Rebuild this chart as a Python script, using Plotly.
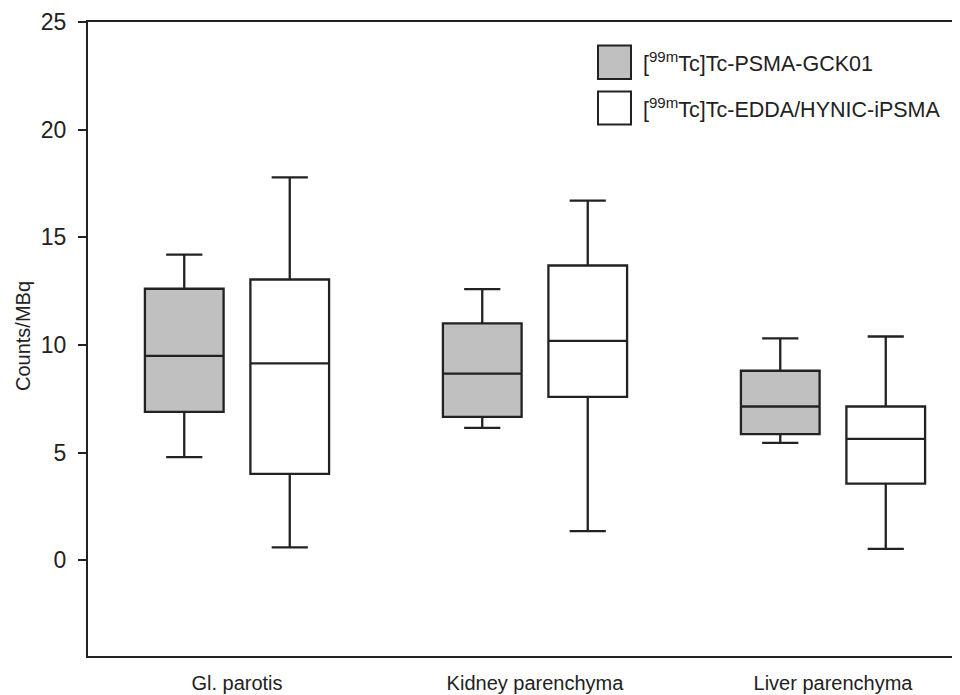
import plotly.graph_objects as go

categories = ["Gl. parotis", "Kidney parenchyma", "Liver parenchyma"]

gck_name = "[<sup>99m</sup>Tc]Tc-PSMA-GCK01"
gck_lower = [4.79, 6.15, 5.45]
gck_q1 = [6.89, 6.66, 5.86]
gck_median = [9.49, 8.67, 7.14]
gck_q3 = [12.61, 11.00, 8.80]
gck_upper = [14.19, 12.59, 10.30]

edda_name = "[<sup>99m</sup>Tc]Tc-EDDA/HYNIC-iPSMA"
edda_lower = [0.60, 1.35, 0.53]
edda_q1 = [4.01, 7.59, 3.56]
edda_median = [9.14, 10.19, 5.64]
edda_q3 = [13.04, 13.69, 7.14]
edda_upper = [17.78, 16.70, 10.39]

y_ticks = [0, 5, 10, 15, 20, 25]

FONT = "Arial, Liberation Sans, sans-serif"
LINE = "#222222"
GRAY = "#c0c0c0"

fig = go.Figure()
fig.add_trace(go.Box(
    name=gck_name, x=categories, q1=gck_q1, median=gck_median, q3=gck_q3,
    lowerfence=gck_lower, upperfence=gck_upper, boxpoints=False,
    fillcolor=GRAY, line=dict(color=LINE, width=2.3), whiskerwidth=0.46,
    showlegend=False, hoverinfo="skip",
))
fig.add_trace(go.Box(
    name=edda_name, x=categories, q1=edda_q1, median=edda_median, q3=edda_q3,
    lowerfence=edda_lower, upperfence=edda_upper, boxpoints=False,
    fillcolor="white", line=dict(color=LINE, width=2.3), whiskerwidth=0.46,
    showlegend=False, hoverinfo="skip",
))

# page body has an 8px margin; figure is sized so it ends at the window edge
OFF = 8
W, H = 960 - OFF, 695 - OFF
ml, mt, mb, mr = 88 - OFF, 22 - OFF, 39, 0
pw, ph = W - ml - mr, H - mt - mb

def px_x(x):
    # x given in page pixels
    return (x - OFF - ml) / pw

def px_y(y):
    return (H - mb - (y - OFF)) / ph

# manual legend
legend_items = [(gck_name, GRAY, 45.5, 79), (edda_name, "white", 91.5, 124.5)]
for name, col, y0, y1 in legend_items:
    fig.add_shape(type="rect", xref="paper", yref="paper",
                  x0=px_x(598), x1=px_x(631), y0=px_y(y1), y1=px_y(y0),
                  fillcolor=col, line=dict(color=LINE, width=2))
    fig.add_annotation(text=name, xref="paper", yref="paper",
                       x=px_x(641), y=px_y((y0 + y1) / 2), xanchor="left",
                       yanchor="middle", showarrow=False,
                       font=dict(family=FONT, size=21.5, color="#222"))

# y axis title
fig.add_annotation(text="Counts/MBq", xref="paper", yref="paper",
                   x=px_x(23), y=px_y(336), xanchor="center", yanchor="middle",
                   textangle=-90, showarrow=False,
                   font=dict(family=FONT, size=20, color="#222"))

fig.update_layout(
    width=W, height=H,
    margin=dict(l=ml, r=mr, t=mt, b=mb, autoexpand=False),
    paper_bgcolor="white", plot_bgcolor="white",
    boxmode="group", boxgap=0.292, boxgroupgap=0.254,
    font=dict(family=FONT, color="#222"),
    xaxis=dict(
        range=[-0.5, 2.5 - 22 / 298], showgrid=False, zeroline=False,
        showline=True, linecolor=LINE, linewidth=2, mirror=True,
        ticks="", tickfont=dict(size=20, family=FONT, color="#222"),
        ticklabelstandoff=8, automargin=False,
    ),
    yaxis=dict(
        range=[-4.45, 25], tickvals=y_ticks, showgrid=False, zeroline=False,
        showline=True, linecolor=LINE, linewidth=2, mirror=False,
        ticks="outside", ticklen=8, tickwidth=2, tickcolor=LINE,
        tickfont=dict(size=23, family=FONT, color="#222"),
        ticklabelstandoff=7, automargin=False,
    ),
)

fig.write_html("out.html")
